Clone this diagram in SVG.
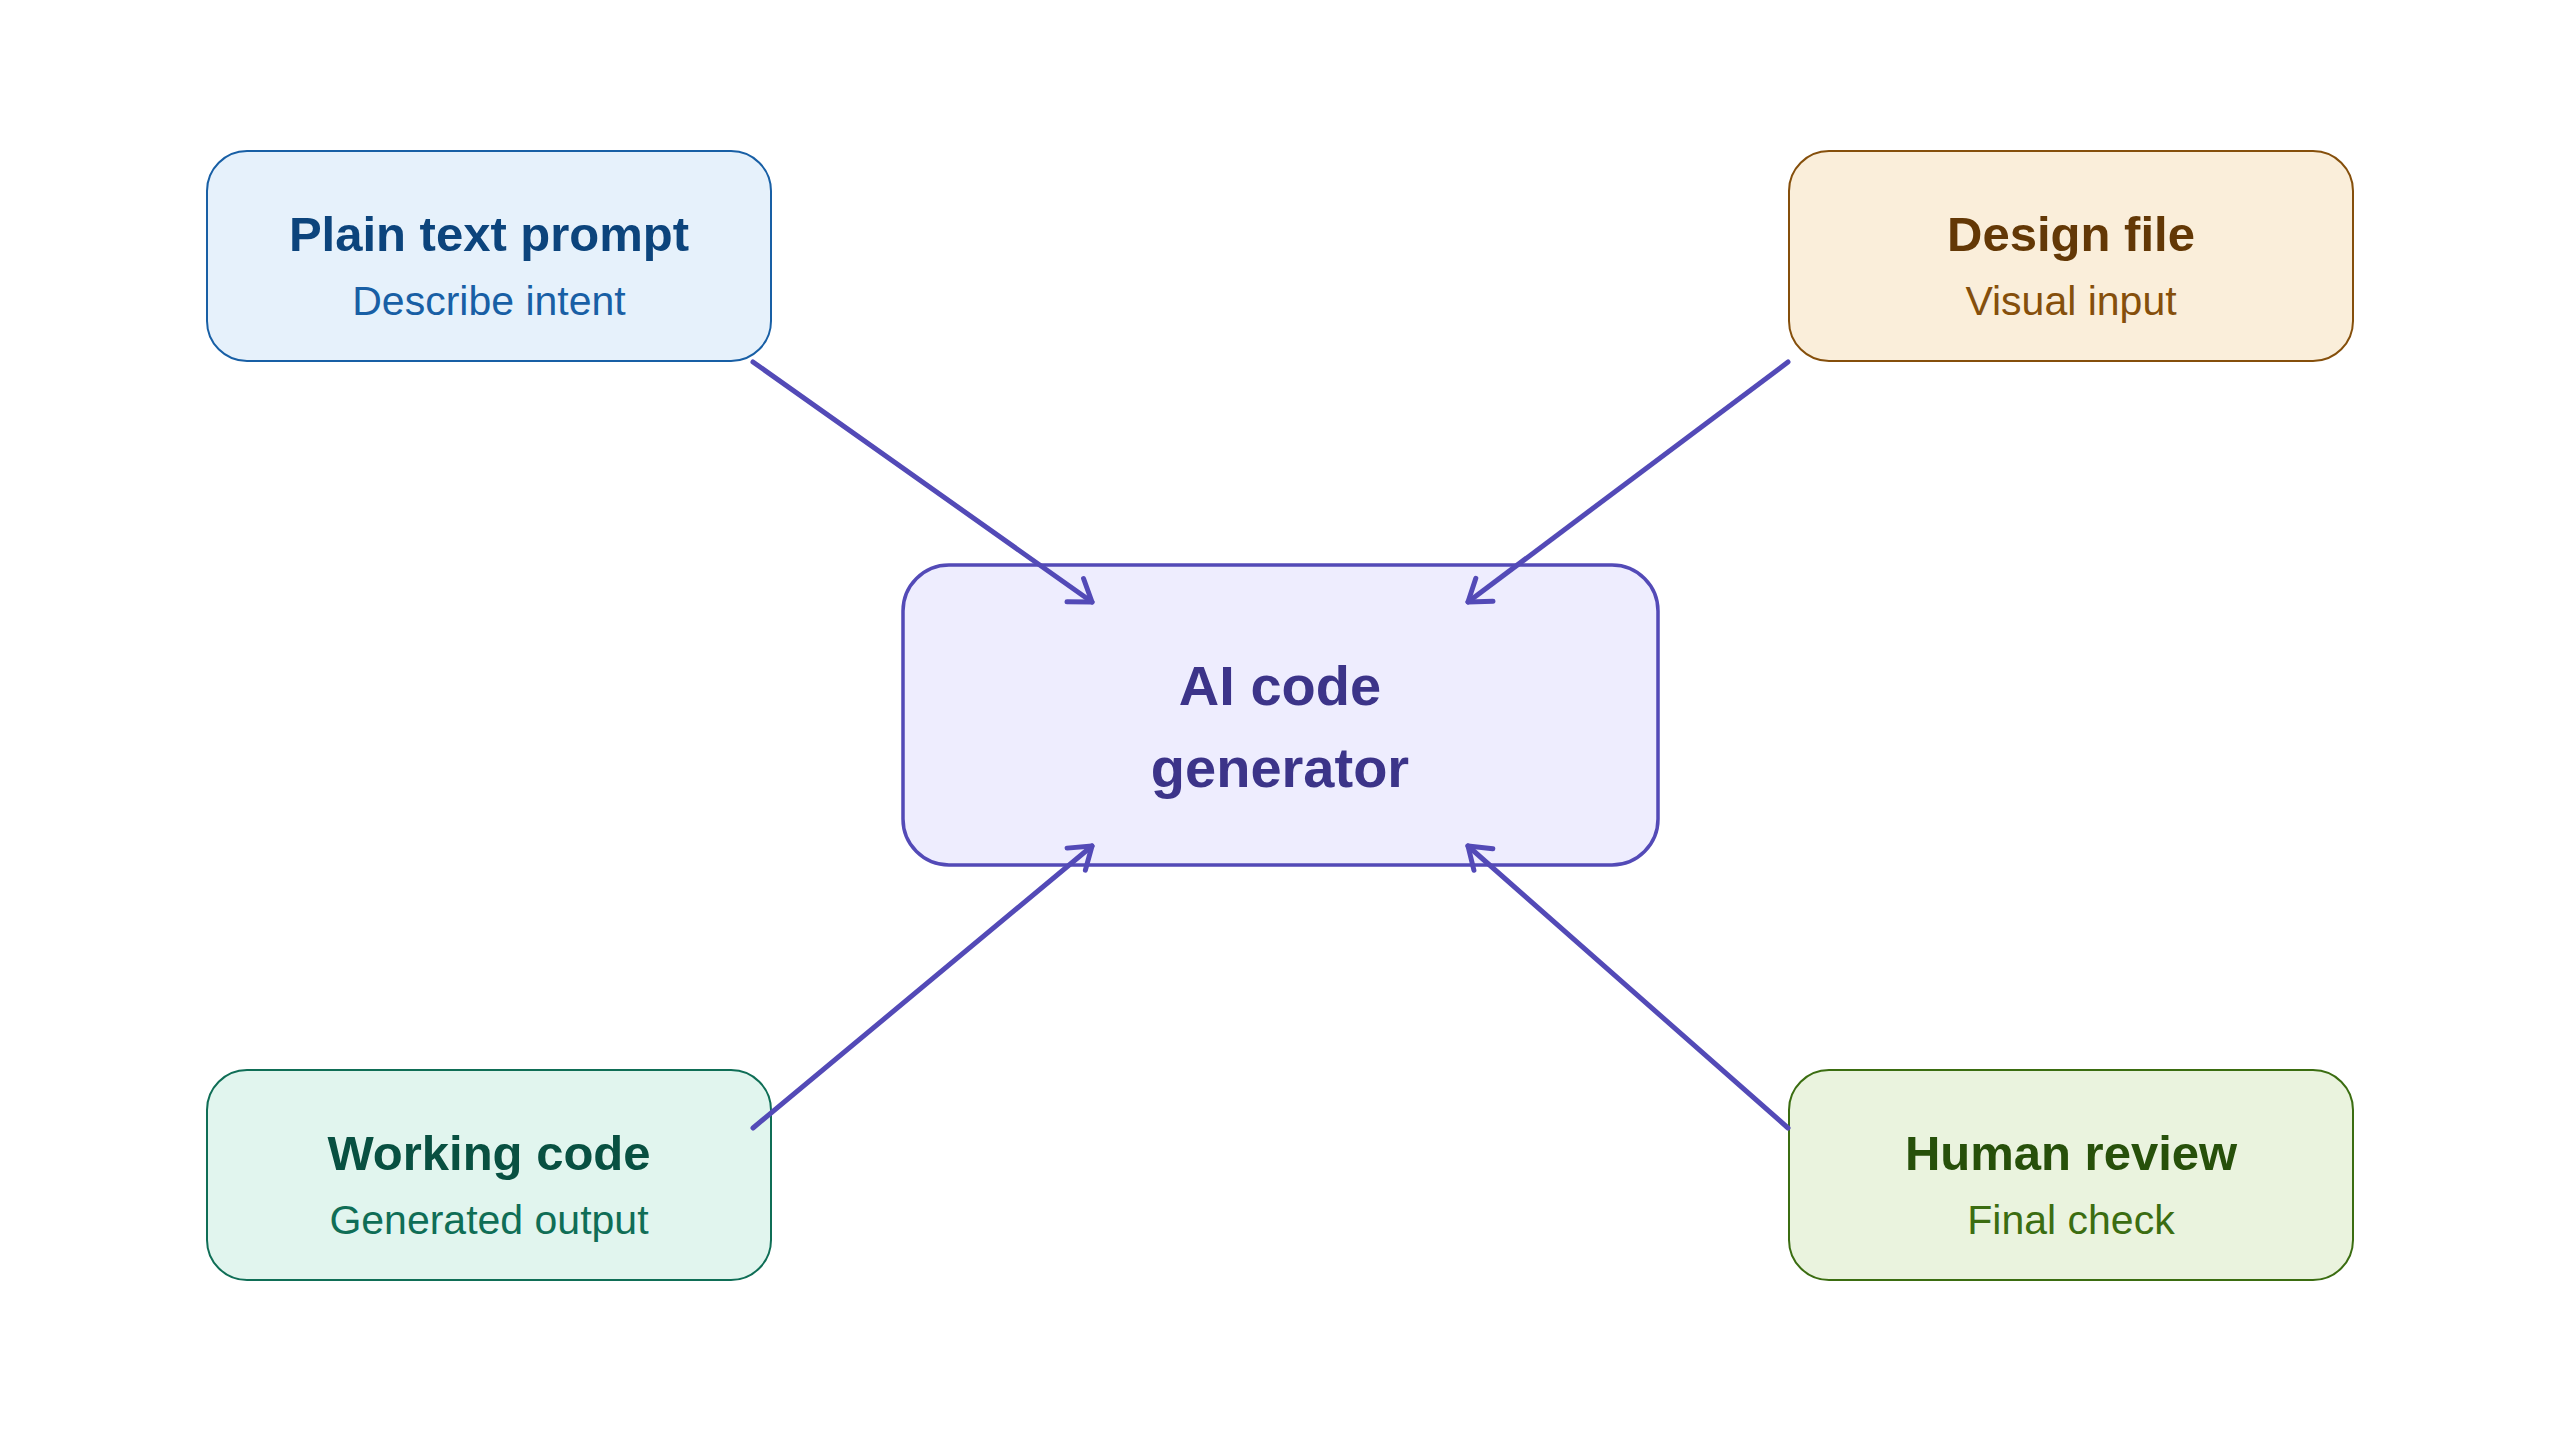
<svg xmlns="http://www.w3.org/2000/svg" width="2560" height="1431" viewBox="0 0 2560 1431">
<style>
.t{font-family:"Liberation Sans",Arial,sans-serif;font-weight:bold;font-size:49px;text-anchor:middle}
.s{font-family:"Liberation Sans",Arial,sans-serif;font-size:41px;text-anchor:middle}
.c{font-family:"Liberation Sans",Arial,sans-serif;font-weight:bold;font-size:56px;text-anchor:middle;fill:#3c3489}
.box{stroke-width:2}
.edge{stroke:#534ab7;stroke-width:5;fill:none;stroke-linecap:round}
</style>
<defs>
<marker id="arr" markerUnits="userSpaceOnUse" markerWidth="40" markerHeight="40" viewBox="-30 -20 40 40" refX="0" refY="0" orient="auto" overflow="visible">
<path d="M-20.5,-14.3 L0,0 L-20.5,14.3" fill="none" stroke="#534ab7" stroke-width="5" stroke-linecap="round" stroke-linejoin="round"/>
</marker>
</defs>
<rect width="2560" height="1431" fill="#ffffff"/>
<g id="node-center">
<rect x="903" y="565" width="755" height="300" rx="46" fill="#eeedfe" stroke="#534ab7" stroke-width="3.5"/>
<text class="c" x="1280" y="705">AI code</text>
<text class="c" x="1280" y="787">generator</text>
</g>
<g id="node-prompt">
<rect class="box" x="207" y="151" width="564" height="210" rx="40" fill="#e6f1fb" stroke="#185fa5"/>
<text class="t" x="489" y="251" fill="#0c447c">Plain text prompt</text>
<text class="s" x="489" y="315" fill="#185fa5">Describe intent</text>
</g>
<g id="node-design">
<rect class="box" x="1789" y="151" width="564" height="210" rx="40" fill="#faeeda" stroke="#854f0b"/>
<text class="t" x="2071" y="251" fill="#633806">Design file</text>
<text class="s" x="2071" y="315" fill="#854f0b">Visual input</text>
</g>
<g id="node-code">
<rect class="box" x="207" y="1070" width="564" height="210" rx="40" fill="#e1f5ee" stroke="#0f6e56"/>
<text class="t" x="489" y="1170" fill="#085041">Working code</text>
<text class="s" x="489" y="1234" fill="#0f6e56">Generated output</text>
</g>
<g id="node-review">
<rect class="box" x="1789" y="1070" width="564" height="210" rx="40" fill="#eaf3de" stroke="#3b6d11"/>
<text class="t" x="2071" y="1170" fill="#27500a">Human review</text>
<text class="s" x="2071" y="1234" fill="#3b6d11">Final check</text>
</g>
<g id="connectors">
<line class="edge" x1="753" y1="362" x2="1092" y2="602" marker-end="url(#arr)"/>
<line class="edge" x1="1788" y1="362" x2="1468" y2="602" marker-end="url(#arr)"/>
<line class="edge" x1="753" y1="1128" x2="1092" y2="846" marker-end="url(#arr)"/>
<line class="edge" x1="1788" y1="1128" x2="1468" y2="846" marker-end="url(#arr)"/>
</g>
</svg>
